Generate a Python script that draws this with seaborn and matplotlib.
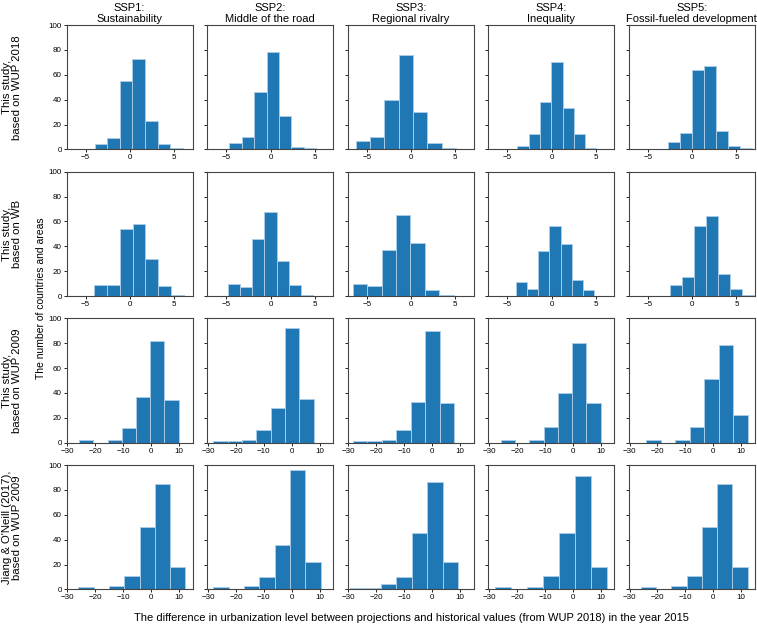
import numpy as np
import pandas as pd
import matplotlib
matplotlib.use("Agg")
import matplotlib.pyplot as plt
import seaborn as sns

plt.rcParams['font.family'] = ['Liberation Sans', 'DejaVu Sans']

# Column titles (SSP scenarios)
ssp_titles = ["SSP1:\nSustainability", "SSP2:\nMiddle of the road", "SSP3:\nRegional rivalry",
              "SSP4:\nInequality", "SSP5:\nFossil-fueled development"]

# Row labels (data sources)
row_labels = ["This study,\nbased on WUP 2018", "This study,\nbased on WB",
              "This study,\nbased on WUP 2009", "Jiang & O'Neill (2017),\nbased on WUP 2009"]

# Bin range (first edge, last edge) per panel, 7 bins each
range_wup2018 = [(-4.0, 5.98), (-4.64, 5.16), (-6.22, 5.05), (-3.86, 5.07), (-2.67, 6.76)]
range_wb = [(-4.07, 6.1), (-4.81, 4.81), (-6.6, 4.84), (-4.03, 4.8), (-2.52, 7.04)]
range_wup2009 = [(-25.85, 9.8), (-28.1, 7.86), (-28.5, 7.9), (-25.74, 9.96), (-24.1, 12.3)]
range_jiang = [(-26.1, 12.2), (-28.1, 10.36), (-29.5, 9.2), (-27.8, 12.2), (-25.9, 12.3)]

# Counts of countries and areas per bin
counts_wup2018 = [[4, 9, 55, 73, 23, 4, 1],
                  [5, 10, 46, 78, 27, 2, 1],
                  [7, 10, 40, 76, 30, 5, 1],
                  [3, 12, 38, 70, 33, 12, 1],
                  [6, 13, 64, 67, 15, 3, 1]]
counts_wb = [[9, 9, 54, 58, 30, 8, 1],
             [10, 7, 46, 68, 28, 9, 1],
             [10, 8, 37, 65, 43, 5, 1],
             [11, 6, 36, 56, 42, 13, 5],
             [9, 15, 56, 64, 18, 6, 1]]
counts_wup2009 = [[2, 0, 2, 12, 37, 82, 34],
                  [1, 1, 2, 10, 28, 92, 35],
                  [1, 1, 2, 10, 33, 90, 32],
                  [2, 0, 2, 13, 40, 80, 32],
                  [2, 0, 2, 13, 51, 79, 22]]
counts_jiang = [[2, 0, 3, 11, 50, 85, 18],
                [2, 0, 3, 10, 36, 96, 22],
                [1, 1, 4, 10, 45, 86, 22],
                [2, 0, 2, 11, 45, 91, 18],
                [2, 0, 3, 11, 50, 85, 18]]

rows = [(range_wup2018, counts_wup2018), (range_wb, counts_wb),
        (range_wup2009, counts_wup2009), (range_jiang, counts_jiang)]

row_xlim = [(-7.15, 7.07), (-7.15, 7.07), (-30.3, 14.8), (-30.3, 14.8)]
row_xticks = [[-5, 0, 5], [-5, 0, 5], [-30, -20, -10, 0, 10], [-30, -20, -10, 0, 10]]

fig, axes = plt.subplots(4, 5, figsize=(7.57, 6.27), dpi=100, sharey=True)
fig.subplots_adjust(left=0.088, right=0.997, top=0.960, bottom=0.060, wspace=0.115, hspace=0.18)

for r, (ranges, counts) in enumerate(rows):
    for c in range(5):
        ax = axes[r, c]
        lo, hi = ranges[c]
        vals = np.array(counts[c], dtype=float)
        edges = np.linspace(lo, hi, len(vals) + 1)
        df = pd.DataFrame({"diff": (edges[:-1] + edges[1:]) / 2, "n": vals})
        sns.histplot(data=df, x="diff", weights="n", bins=len(vals), binrange=(lo, hi),
                     ax=ax, color="#1f77b4", alpha=1, edgecolor="#a9cbe6", linewidth=0.7)
        ax.set_xlim(*row_xlim[r])
        ax.set_xticks(row_xticks[r])
        ax.set_ylim(0, 100)
        ax.set_yticks([0, 20, 40, 60, 80, 100])
        ax.set_xlabel("")
        ax.set_ylabel("")
        ax.tick_params(labelsize=5.8, length=2, width=0.6, pad=1.5)
        for s in ax.spines.values():
            s.set_linewidth(0.8)
            s.set_color("#444444")
        if r == 0:
            ax.set_title(ssp_titles[c], fontsize=8, pad=2.5, linespacing=1.05)

# Row labels
for r in range(4):
    pos = axes[r, 0].get_position()
    fig.text(0.016, (pos.y0 + pos.y1) / 2, row_labels[r], rotation=90, ha="center",
             va="center", fontsize=8.2, linespacing=1.05)

fig.text(0.054, 0.524, "The number of countries and areas", rotation=90, ha="center",
         va="center", fontsize=7.5)
fig.text(0.543, 0.014, "The difference in urbanization level between projections and historical "
         "values (from WUP 2018) in the year 2015", ha="center", va="center", fontsize=8)

fig.savefig("out.png", dpi=100)
